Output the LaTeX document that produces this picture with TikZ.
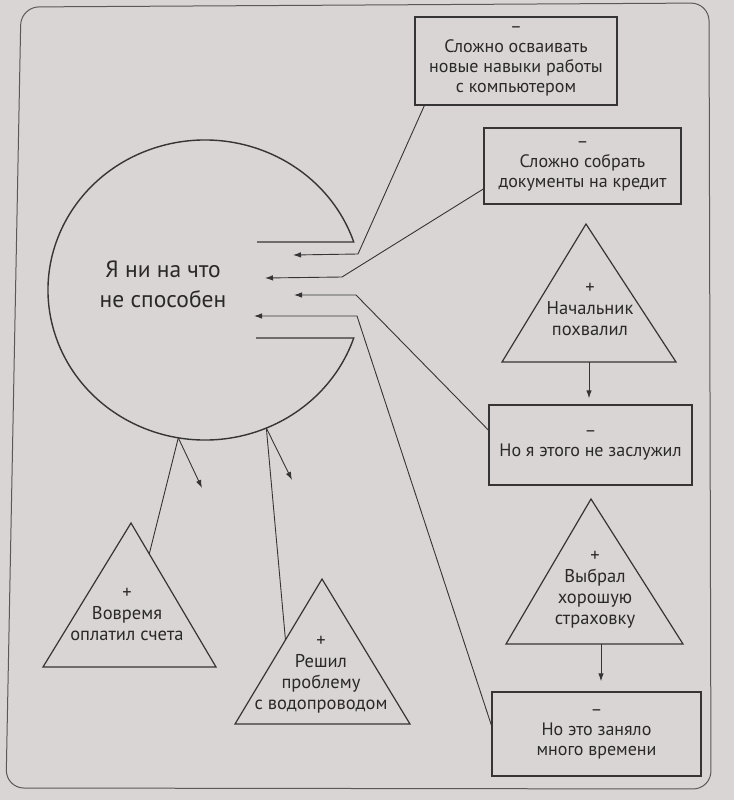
\documentclass[tikz,border=0pt]{standalone}
\usepackage{fontspec}
\setmainfont{PT Sans}
\usetikzlibrary{arrows.meta,calc}
\definecolor{bg}{HTML}{D9D5D5}
\definecolor{ink}{HTML}{363435}
\definecolor{txt}{HTML}{2A2829}
\definecolor{framec}{HTML}{5A5858}
\tikzset{
  boxnode/.style={draw=ink, line width=1.4pt, align=center, inner sep=0pt, text=txt,
    font=\fontsize{18}{20}\selectfont},
  tritext/.style={align=center, inner sep=0pt, text=txt, font=\fontsize{18.5}{21}\selectfont},
  bigtext/.style={align=center, inner sep=0pt, text=txt, font=\fontsize{23.5}{30}\selectfont},
  tri/.style={draw=ink, line width=1.2pt, line join=miter},
  conn/.style={draw=ink, line width=0.9pt},
  arr/.style={conn, -{Latex[length=8pt,width=5.5pt]}},
  circ/.style={draw=ink, line width=1.4pt},
  frameline/.style={draw=framec, line width=1pt, rounded corners=18pt}
}
\begin{document}
\begin{tikzpicture}[x=1pt,y=1pt]
\useasboundingbox (0,0) rectangle (734,-800);
\fill[bg] (0,0) rectangle (734,-800);
\draw[frameline] (21,-7) -- (709,-3) -- (711,-789) -- (6,-788) -- cycle;

% boxes
\node[boxnode, minimum width=202pt, minimum height=88pt] (b1) at (516,-61)
  {–\\Сложно осваивать\\новые навыки работы\\с компьютером};
\node[boxnode, minimum width=197pt, minimum height=76pt] (b2) at (582.5,-166)
  {–\\Сложно собрать\\документы на кредит};
\node[boxnode, minimum width=203pt, minimum height=80pt] (b3) at (590.5,-445)
  {–\\Но я этого не заслужил};
\node[boxnode, minimum width=209pt, minimum height=84pt] (b4) at (596.5,-734)
  {–\\Но это заняло\\много времени};

% triangles
\coordinate (t1a) at (586,-224); \coordinate (t1L) at (502,-362); \coordinate (t1R) at (676,-362);
\draw[tri] (t1a) -- (t1L) -- (t1R) -- cycle;
\node[tritext] (t1) at (590,-309) {+\\Начальник\\похвалил};

\coordinate (t2a) at (591,-499); \coordinate (t2L) at (506,-644); \coordinate (t2R) at (683,-644);
\draw[tri] (t2a) -- (t2L) -- (t2R) -- cycle;
\node[tritext] (t2) at (595,-590) {+\\Выбрал\\хорошую\\страховку};

\coordinate (t3a) at (131,-523); \coordinate (t3L) at (43,-667); \coordinate (t3R) at (216,-667);
\draw[tri] (t3a) -- (t3L) -- (t3R) -- cycle;
\node[tritext] (t3) at (127,-614) {+\\Вовремя\\оплатил счета};

\coordinate (t4a) at (322,-579); \coordinate (t4L) at (235,-724); \coordinate (t4R) at (410,-724);
\draw[tri] (t4a) -- (t4L) -- (t4R) -- cycle;
\node[tritext] (t4) at (321,-675) {+\\Решил\\проблему\\с водопроводом};

% the open circle
\coordinate (cc) at (205,-290);
\coordinate (cutU) at (257,-242);
\coordinate (cutL) at (256,-338);
\coordinate (gU) at ($(cc)+(18.66:157pt and 150pt)$);
\draw[circ] (cutU) -- (gU) arc[start angle=18.66, end angle=341.34, x radius=157pt, y radius=150pt] -- (cutL);
\node[bigtext] (me) at (163,-284) {Я ни на что\\не способен};

% arrows into the gap
\coordinate (k1) at (358,-254); \coordinate (e1) at (293,-255);
\coordinate (k2) at (342,-277); \coordinate (e2) at (265,-278);
\coordinate (k3) at (356,-295); \coordinate (e3) at (294,-295);
\coordinate (k4) at (357,-316); \coordinate (e4) at (254,-316);
\draw[arr] ([xshift=10pt]b1.south west) -- (k1) -- (e1);
\draw[arr] ([yshift=-23pt]b2.west) -- (k2) -- (e2);
\draw[arr] ([yshift=15pt]b3.west) -- (k3) -- (e3);
\draw[arr] ([yshift=9pt]b4.west) -- (k4) -- (e4);

% arrows from triangles to boxes
\coordinate (t1b) at (589,-362);
\draw[arr, shorten >=6pt] (t1b) -- (b3.north -| t1b);
\coordinate (t2b) at (601,-644);
\draw[arr, shorten >=10pt] (t2b) -- (b4.north -| t2b);

% bottom of the circle
\coordinate (P3) at ($(cc)+(260.2:157pt and 150pt)$);
\coordinate (P4) at ($(cc)+(293:157pt and 150pt)$);
\coordinate (t3s) at ($(t3a)!0.215!(t3R)$);
\coordinate (t4s) at ($(t4a)!0.42!(t4L)$);
\coordinate (e5) at (202,-488);
\coordinate (e6) at (292,-480);
\draw[conn] (P3) -- (t3s);
\draw[arr] (P3) -- (e5);
\draw[conn] (P4) -- (t4s);
\draw[arr] (P4) -- (e6);
\end{tikzpicture}
\end{document}
